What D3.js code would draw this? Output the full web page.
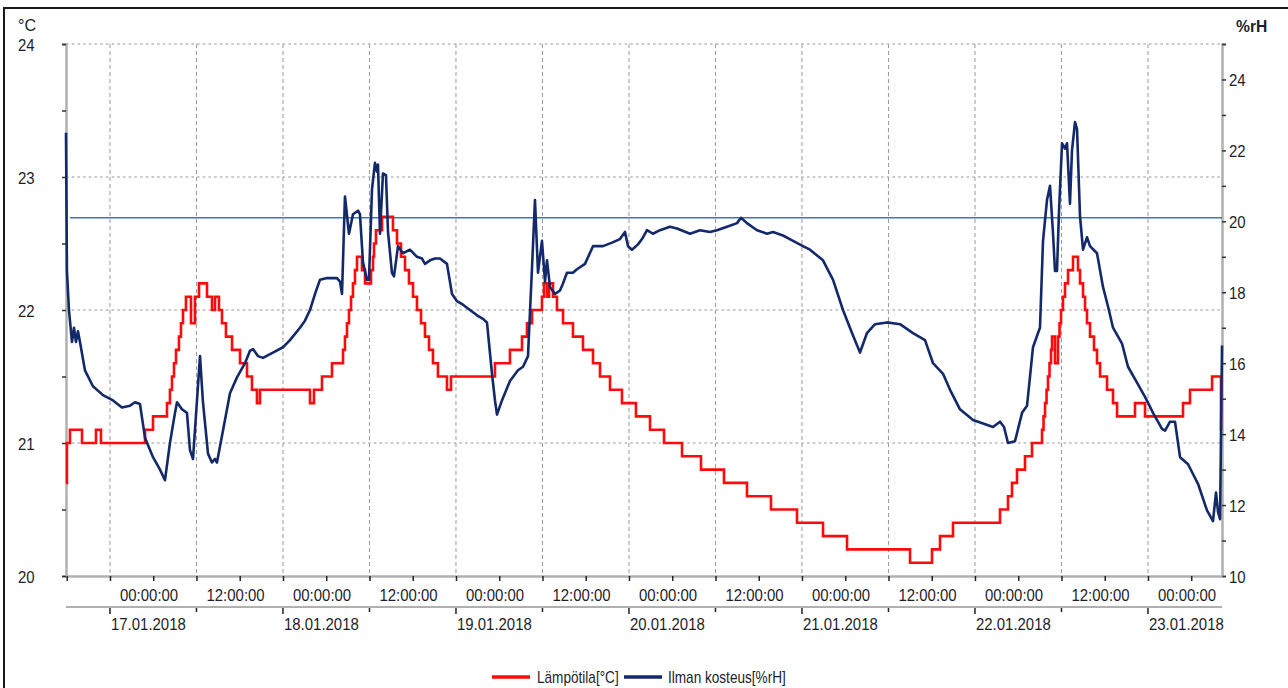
<!DOCTYPE html>
<html>
<head>
<meta charset="utf-8">
<script src="https://cdn.jsdelivr.net/npm/d3@7"></script>
<style>
  body { margin: 0; background: #fff; }
  svg { display: block; }
  text { font-family: "Liberation Sans", Arial, sans-serif; fill: #1e1e2a; }
</style>
</head>
<body>
<svg id="chart" width="1288" height="688"></svg>
<script>
// ---- data: hours since 17.01.2018 00:00 ----
const tempHours = [-6.10,-5.97,-5.55,-3.88,-1.94,-1.25,4.86,5.97,7.91,8.32,8.60,8.88,9.16,9.57,9.85,10.13,10.54,11.24,11.79,12.35,13.46,14.15,14.57,15.12,15.54,16.09,16.93,18.04,19.01,19.70,20.39,20.81,27.75,28.30,29.41,30.80,32.33,32.60,32.88,33.16,33.44,33.71,33.99,34.27,34.96,35.38,36.21,36.49,36.63,36.90,37.74,39.26,39.82,40.37,40.93,41.48,42.04,42.59,43.15,43.70,44.26,44.81,45.50,46.75,47.31,53.41,55.49,57.16,57.85,58.55,59.93,60.21,60.63,60.91,61.46,62.01,62.85,64.23,65.62,67.01,67.98,69.37,71.03,72.97,74.92,76.86,79.36,81.99,85.18,88.37,91.70,95.31,98.92,102.25,110.99,114.04,115.15,116.95,123.47,124.58,125.14,125.83,126.94,127.91,129.30,129.51,129.72,129.93,130.13,130.34,130.55,130.69,131.10,131.52,131.73,131.94,132.21,132.49,132.91,133.60,134.29,134.57,134.99,135.27,135.54,135.96,136.51,136.93,137.35,138.32,139.15,139.71,142.20,143.59,148.86,149.83,152.89,154.13,154.27];
const tempValues = [20.7,21.0,21.1,21.0,21.1,21.0,21.1,21.2,21.3,21.4,21.5,21.6,21.7,21.8,21.9,22.0,22.1,21.9,22.1,22.2,22.1,22.0,22.1,22.0,21.9,21.8,21.7,21.6,21.5,21.4,21.3,21.4,21.3,21.4,21.5,21.6,21.7,21.8,21.9,22.0,22.1,22.2,22.3,22.4,22.3,22.2,22.3,22.4,22.5,22.6,22.7,22.6,22.5,22.4,22.3,22.2,22.1,22.0,21.9,21.8,21.7,21.6,21.5,21.4,21.5,21.6,21.7,21.8,21.9,22.0,22.1,22.2,22.1,22.2,22.1,22.0,21.9,21.8,21.7,21.6,21.5,21.4,21.3,21.2,21.1,21.0,20.9,20.8,20.7,20.6,20.5,20.4,20.3,20.2,20.1,20.2,20.3,20.4,20.5,20.6,20.7,20.8,20.9,21.0,21.1,21.2,21.3,21.4,21.5,21.6,21.7,21.8,21.6,21.8,21.9,22.0,22.1,22.2,22.3,22.4,22.3,22.2,22.1,22.0,21.9,21.8,21.7,21.6,21.5,21.4,21.3,21.2,21.3,21.2,21.3,21.4,21.5,21.1,21.1];

const humHours = [-6.10,-5.97,-5.69,-5.27,-4.99,-4.72,-4.44,-4.16,-3.47,-2.36,-0.97,0.42,1.66,2.77,3.47,4.16,4.86,5.97,6.94,7.63,8.32,9.02,9.30,9.99,10.68,11.10,11.52,12.49,12.90,13.60,14.15,14.57,14.84,15.68,16.65,17.62,18.73,19.42,19.84,20.53,21.23,22.61,24.00,24.97,26.36,27.05,27.75,28.44,29.13,30.11,31.49,31.91,32.19,32.60,33.16,33.71,34.41,34.68,35.10,35.65,35.93,36.35,36.76,37.04,37.18,37.46,37.87,38.29,38.57,39.12,39.40,39.96,40.65,41.62,42.59,43.29,43.70,44.40,45.09,45.78,46.75,47.45,48.14,48.97,49.94,50.92,51.75,52.30,53.00,53.41,53.69,54.38,55.49,56.60,57.30,57.99,58.55,58.96,59.38,59.93,60.35,60.63,61.04,61.74,62.43,62.85,63.40,64.23,64.79,65.90,67.01,68.40,69.65,70.75,71.45,71.87,72.42,73.25,73.81,74.50,75.33,76.30,77.69,78.66,80.47,81.85,83.24,84.21,85.60,86.99,87.54,88.37,89.76,91.15,91.98,93.37,94.76,96.14,97.11,98.92,100.31,101.69,102.94,104.05,105.02,106.13,107.80,109.60,111.40,113.07,114.18,115.57,116.54,117.92,119.73,121.12,122.50,123.47,124.03,124.58,125.55,126.53,127.22,128.05,128.75,129.02,129.44,129.99,130.41,130.83,131.10,131.38,131.66,132.08,132.49,132.77,133.18,133.46,133.88,134.16,134.57,134.99,135.54,135.96,136.93,137.76,138.46,139.15,140.40,141.23,142.48,143.59,144.70,145.95,146.37,147.06,147.75,148.45,149.56,150.94,152.19,153.02,153.44,153.72,154.00,154.27];
const humValues = [22.5,18.6,17.5,16.6,17.0,16.6,16.9,16.6,15.8,15.35,15.1,14.95,14.75,14.8,14.9,14.85,13.9,13.35,13.0,12.7,13.75,14.6,14.9,14.7,14.6,13.55,13.3,16.2,14.9,13.45,13.2,13.3,13.2,14.1,15.15,15.6,16.0,16.35,16.4,16.2,16.15,16.3,16.45,16.65,17.0,17.2,17.5,17.95,18.35,18.4,18.4,18.3,17.95,20.7,19.65,20.2,20.3,20.2,18.85,18.35,18.35,20.9,21.65,21.4,21.6,19.65,21.35,21.3,19.7,18.55,18.45,19.3,19.1,19.2,19.0,18.95,18.8,18.9,18.95,18.95,18.8,17.95,17.75,17.65,17.5,17.35,17.25,17.15,15.7,14.95,14.55,14.95,15.5,15.8,15.9,16.2,18.7,20.6,18.55,19.45,18.3,18.9,18.15,17.95,18.05,18.25,18.55,18.55,18.65,18.8,19.3,19.3,19.4,19.5,19.7,19.3,19.2,19.35,19.5,19.75,19.65,19.75,19.85,19.8,19.65,19.75,19.7,19.75,19.85,19.95,20.1,19.95,19.75,19.65,19.7,19.6,19.45,19.3,19.2,18.9,18.35,17.5,16.85,16.3,16.85,17.1,17.15,17.1,16.85,16.65,16.0,15.7,15.25,14.7,14.4,14.3,14.2,14.35,14.2,13.75,13.8,14.6,14.8,16.45,16.85,17.0,19.45,20.6,21.0,19.65,18.6,18.6,20.3,22.2,22.05,22.2,20.5,22.0,22.8,22.6,20.15,19.2,19.55,19.3,19.1,18.15,17.6,17.0,16.55,15.9,15.45,15.05,14.6,14.15,14.1,14.35,14.35,13.35,13.15,12.6,11.85,11.55,12.35,11.8,11.6,16.5];

const humLimit = 20.1;
const leftTicks = [20, 21, 22, 23, 24];
const rightTicks = [10, 12, 14, 16, 18, 20, 22, 24];
const dayLabels = ["17.01.2018", "18.01.2018", "19.01.2018", "20.01.2018", "21.01.2018", "22.01.2018", "23.01.2018"];
const timeLabels = ["00:00:00", "12:00:00"];
const seriesNames = ["Lämpötila[°C]", "Ilman kosteus[%rH]"];
const unitLeft = "°C", unitRight = "%rH";
const domainHours = [-6.1, 154.27];

// ---- setup ----
const T0 = Date.UTC(2018, 0, 17);
const toDate = h => new Date(T0 + h * 3600e3);
const svg = d3.select("#chart");
const L = 66, R = 1222, TOP = 44, BOT = 576;
const x = d3.scaleUtc().domain(domainHours.map(toDate)).range([L, R]);
const yT = d3.scaleLinear().domain([20, 25 - 1]).range([BOT, TOP]);
const yH = d3.scaleLinear().domain([10, 25]).range([BOT, TOP]);
const SX = 0.88;

function txt(g, px, py, s, size, opts = {}) {
  return g.append("text")
    .attr("transform", `translate(${px},${py}) scale(${opts.sx || SX},1)`)
    .attr("font-size", size)
    .attr("font-weight", opts.bold ? "bold" : null)
    .attr("text-anchor", opts.anchor || "start")
    .text(s);
}

// frame
svg.append("path").attr("d", "M4,688V8H1288").attr("fill", "none")
  .attr("stroke", "#1a1a1a").attr("stroke-width", 2);

// grid
const halfDays = x.ticks(d3.utcHour.every(12));
const grid = svg.append("g");
grid.selectAll("line.v").data(halfDays).join("line")
  .attr("x1", d => x(d)).attr("x2", d => x(d))
  .attr("y1", TOP).attr("y2", BOT)
  .attr("stroke", "#9a9a9a").attr("stroke-width", 1).attr("stroke-dasharray", "4,3");
grid.selectAll("line.h").data(leftTicks.filter(v => v > 20)).join("line")
  .attr("x1", L).attr("x2", R)
  .attr("y1", d => yT(d)).attr("y2", d => yT(d))
  .attr("stroke", "#b8b8b8").attr("stroke-width", 1.6).attr("stroke-dasharray", "2.5,3.2");

// left axis
const gl = svg.append("g").attr("transform", `translate(${L},0)`)
  .call(d3.axisLeft(yT).tickValues(d3.range(20, 24.01, 0.5)).tickSize(4).tickFormat(""));
gl.select(".domain").attr("stroke", "#b0b0b0").attr("stroke-width", 2.5);
gl.selectAll(".tick line").attr("stroke", "#333").attr("stroke-width", 1.5);
leftTicks.forEach(v => txt(svg, 18, yT(v) + 6.5, String(v), 17));
txt(svg, 18, 31, unitLeft, 17, { sx: 0.95 });

// right axis
const gr = svg.append("g").attr("transform", `translate(${R},0)`)
  .call(d3.axisRight(yH).tickValues(d3.range(10, 25.01, 1)).tickSize(4).tickFormat(""));
gr.select(".domain").attr("stroke", "#b0b0b0").attr("stroke-width", 2.5);
gr.selectAll(".tick line").attr("stroke", "#333").attr("stroke-width", 1.5);
rightTicks.forEach(v => txt(svg, 1229, yH(v) + 6.5, String(v), 17));
txt(svg, 1236, 32, unitRight, 17, { bold: true, sx: 0.92 });

// bottom axis, row 1 (6h ticks + time labels)
const gb = svg.append("g").attr("transform", `translate(0,${BOT})`)
  .call(d3.axisBottom(x).ticks(d3.utcHour.every(6)).tickSize(5).tickSizeOuter(0).tickFormat(""));
gb.select(".domain").attr("stroke", "#b0b0b0").attr("stroke-width", 2.5);
gb.selectAll(".tick line").attr("stroke", "#222").attr("stroke-width", 1.5);
halfDays.forEach(d => txt(svg, x(d) + 10, 601, timeLabels[d.getUTCHours() === 0 ? 0 : 1], 17));

// bottom axis, row 2 (12h ticks + dates)
const g2 = svg.append("g").attr("transform", "translate(0,607)");
g2.append("line").attr("x1", L).attr("x2", R).attr("stroke", "#b0b0b0").attr("stroke-width", 2);
g2.selectAll("line.t").data(halfDays).join("line")
  .attr("x1", d => x(d)).attr("x2", d => x(d))
  .attr("y1", 1).attr("y2", d => d.getUTCHours() === 0 ? 7 : 5)
  .attr("stroke", "#222").attr("stroke-width", 1.5);
halfDays.filter(d => d.getUTCHours() === 0).forEach((d, i) =>
  txt(svg, x(d) + 1, 630, dayLabels[i], 17));

// limit line
svg.append("line").attr("x1", 70).attr("x2", R)
  .attr("y1", yH(humLimit)).attr("y2", yH(humLimit))
  .attr("stroke", "#3f74c4").attr("stroke-width", 1.5);

// series
const temp = tempHours.map((h, i) => ({ t: toDate(h), v: tempValues[i] }));
const hum = humHours.map((h, i) => ({ t: toDate(h), v: humValues[i] }));
svg.append("path").datum(temp)
  .attr("d", d3.line().x(d => x(d.t)).y(d => yT(d.v)).curve(d3.curveStepAfter))
  .attr("fill", "none").attr("stroke", "#ff0a0a").attr("stroke-width", 2.6)
  .attr("stroke-linejoin", "miter");
svg.append("path").datum(hum)
  .attr("d", d3.line().x(d => x(d.t)).y(d => yH(d.v)))
  .attr("fill", "none").attr("stroke", "#13296a").attr("stroke-width", 2.6)
  .attr("stroke-linejoin", "round");

// legend
const lg = svg.append("g");
lg.append("line").attr("x1", 492).attr("x2", 530).attr("y1", 677).attr("y2", 677)
  .attr("stroke", "#ff0a0a").attr("stroke-width", 3.5);
txt(lg, 537, 683, seriesNames[0], 16, { sx: 0.85 });
lg.append("line").attr("x1", 624).attr("x2", 662).attr("y1", 677).attr("y2", 677)
  .attr("stroke", "#13296a").attr("stroke-width", 3.5);
txt(lg, 668, 683, seriesNames[1], 16, { sx: 0.85 });
</script>
</body>
</html>
